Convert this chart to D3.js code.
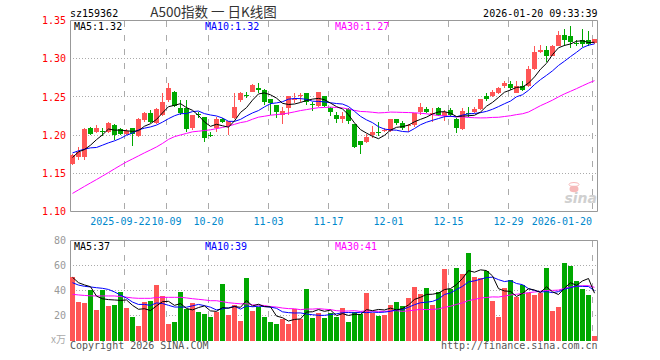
<!DOCTYPE html>
<html><head><meta charset="utf-8">
<script src="https://cdn.jsdelivr.net/npm/d3@7/dist/d3.min.js"></script>
<style>body{margin:0;background:#fff}svg{display:block}</style>
</head><body>
<svg id="c" width="660" height="360"></svg>
<script>
// ---- data ----
const tradingDays = {
  "2025-09": [9,10,11,12,15,16,17,18,19,22,23,24,25,26,29,30],
  "2025-10": [9,10,13,14,15,16,17,20,21,22,23,24,27,28,29,30,31],
  "2025-11": [3,4,5,6,7,10,11,12,13,14,17,18,19,20,21,24,25,26,27,28],
  "2025-12": [1,2,3,4,5,8,9,10,11,12,15,16,17,18,19,22,23,24,25,26,29,30,31],
  "2026-01": [5,6,7,8,9,12,13,14,15,16,19,20]
};
const dates = [];
Object.keys(tradingDays).forEach(m => tradingDays[m].forEach(d => dates.push(m + "-" + String(d).padStart(2, "0"))));

const open  = [1.1627,1.1715,1.1715,1.2088,1.2044,1.2057,1.2044,1.2132,1.2079,1.2013,1.2088,1.1987,1.2197,1.2294,1.2154,1.2263,1.2461,1.2570,1.2360,1.2360,1.2088,1.2280,1.2232,1.2003,1.2088,1.2211,1.2123,1.2219,1.2461,1.2530,1.2570,1.2614,1.2592,1.2469,1.2395,1.2263,1.2351,1.2460,1.2520,1.2548,1.2412,1.2382,1.2513,1.2360,1.2263,1.2206,1.2338,1.2145,1.1921,1.1912,1.2000,1.2035,1.2062,1.2057,1.2206,1.2154,1.2125,1.2132,1.2307,1.2338,1.2290,1.2351,1.2250,1.2329,1.2211,1.2079,1.2294,1.2307,1.2338,1.2513,1.2513,1.2557,1.2645,1.2671,1.2557,1.2645,1.2645,1.2864,1.3088,1.3118,1.3039,1.3162,1.3316,1.3303,1.3210,1.3250,1.3241,1.3206];
const high  = [1.1759,1.1838,1.2088,1.2110,1.2132,1.2096,1.2175,1.2140,1.2088,1.2075,1.2092,1.2219,1.2307,1.2329,1.2350,1.2557,1.2680,1.2575,1.2461,1.2461,1.2268,1.2307,1.2241,1.2044,1.2241,1.2230,1.2190,1.2548,1.2570,1.2570,1.2665,1.2680,1.2600,1.2472,1.2398,1.2373,1.2516,1.2548,1.2557,1.2557,1.2439,1.2565,1.2516,1.2373,1.2307,1.2307,1.2351,1.2148,1.1924,1.2013,1.2118,1.2175,1.2088,1.2210,1.2210,1.2184,1.2140,1.2294,1.2417,1.2373,1.2351,1.2373,1.2329,1.2351,1.2219,1.2351,1.2364,1.2364,1.2472,1.2557,1.2592,1.2636,1.2702,1.2711,1.2702,1.2702,1.2899,1.3162,1.3184,1.3171,1.3184,1.3368,1.3390,1.3425,1.3250,1.3390,1.3360,1.3262];
const low   = [1.1605,1.1671,1.1680,1.2000,1.2031,1.1987,1.2022,1.1934,1.2000,1.2000,1.1855,1.1969,1.2175,1.2162,1.2140,1.2255,1.2430,1.2373,1.2263,1.2044,1.2066,1.2219,1.1912,1.1969,1.2044,1.2160,1.2000,1.2212,1.2439,1.2483,1.2565,1.2557,1.2395,1.2263,1.2219,1.2140,1.2263,1.2417,1.2439,1.2395,1.2320,1.2373,1.2373,1.2250,1.2154,1.2162,1.2145,1.1825,1.1759,1.1899,1.1956,1.1987,1.2044,1.2044,1.2132,1.2066,1.2044,1.2110,1.2263,1.2285,1.2175,1.2250,1.2184,1.2241,1.2031,1.2066,1.2241,1.2285,1.2329,1.2447,1.2496,1.2539,1.2614,1.2592,1.2548,1.2579,1.2636,1.2855,1.3075,1.2952,1.3031,1.3160,1.3171,1.3140,1.3162,1.3154,1.3162,1.3197];
const close = [1.1737,1.1781,1.2075,1.2013,1.2096,1.2053,1.2162,1.2000,1.2013,1.2057,1.2013,1.2206,1.2294,1.2175,1.2338,1.2439,1.2614,1.2382,1.2285,1.2079,1.2263,1.2276,1.1956,1.2000,1.2211,1.2167,1.2184,1.2373,1.2548,1.2526,1.2658,1.2590,1.2439,1.2425,1.2307,1.2320,1.2513,1.2469,1.2526,1.2439,1.2408,1.2561,1.2382,1.2307,1.2206,1.2254,1.2184,1.1846,1.1868,1.1978,1.2044,1.2031,1.2066,1.2206,1.2162,1.2088,1.2132,1.2285,1.2364,1.2307,1.2294,1.2263,1.2307,1.2263,1.2088,1.2320,1.2290,1.2338,1.2469,1.2474,1.2570,1.2614,1.2680,1.2614,1.2645,1.2592,1.2868,1.3088,1.3118,1.3031,1.3162,1.3316,1.3241,1.3215,1.3206,1.3197,1.3197,1.3259];
const volume = [51.2,31.2,30.4,40.8,24.6,40.8,27.8,28.9,39.2,26.3,19.2,12,31.2,32,44.8,36,13.6,15,39.2,25.1,30.4,22.9,21.6,19.2,23.2,45.6,20.3,28.3,16.1,50.4,24,27,18.9,15,13.6,17.5,13.6,25.4,17,41.3,18.4,22.4,18.4,21.9,19.2,26.4,15.2,22.9,21.3,38.4,22.4,20,20.8,28.8,30.9,28,34.4,43.2,37.1,42.4,28.8,38.9,57.4,41,58.3,53.4,70.2,51.1,50.4,55.5,32,19.2,41.9,48.6,35.2,44.3,37.9,36.8,38.4,58.4,24,27,62.4,60,48,41.6,36.8,3.7];

// moving-average values at the left edge (they depend on earlier days)
const ma5Head  = [1.1707,1.1780,1.1811,1.1868];
const ma10Head = [1.1767,1.1794,1.1816,1.1833,1.1838,1.1868,1.1899,1.1925,1.1957];
const ma30Head = [1.1237,1.1283,1.1329,1.1374,1.1418,1.1464,1.1510,1.1558,1.1604,1.1649,1.1688,1.1728,1.1768,1.1806,1.1845,1.1891,1.1944,1.1980,1.2002,1.2022,1.2043,1.2051,1.2060,1.2069,1.2085,1.2100,1.2118,1.2141,1.2164];
const vma5Head  = [50.7,46.4,44.6,43.2];
const vma10Head = [46.4,44.5,43.5,43.0,42.4,41.9,41.0,39.0,36.5];
const vma30Head = [37.1,36.6,36.2,35.9,35.8,35.8,35.8,35.8,35.3,34.8,34.2,33.9,33.9,33.9,34.6,34.7,34.7,34.7,34.7,34.2,33.6,33.1,32.6,32.0,32.0,31.2,30.4,29.9,29.5];

const xTickDates  = ["2025-09-22","2025-10-09","2025-10-20","2025-11-03","2025-11-17","2025-12-01","2025-12-15","2025-12-29","2026-01-20"];
const xTickLabels = ["2025-09-22","10-09","10-20","11-03","11-17","12-01","12-15","12-29","2026-01-20"];
const priceTicks = [1.10,1.15,1.20,1.25,1.30,1.35];
const volTicks = [20,40,60,80];
const priceLegend = ["MA5:1.32","MA10:1.32","MA30:1.27"];
const volLegend = ["MA5:37","MA10:39","MA30:41"];
const titleText = "A500指数 一 日K线图";
const codeText = "sz159362";
const timeText = "2026-01-20 09:33:39";

// ---- helpers ----
function movingAvg(arr, n, head) {
  return arr.map((v, i) => i < head.length ? head[i] : d3.mean(arr.slice(i - n + 1, i + 1)));
}
const ma5 = movingAvg(close, 5, ma5Head), ma10 = movingAvg(close, 10, ma10Head), ma30 = movingAvg(close, 30, ma30Head);
const vma5 = movingAvg(volume, 5, vma5Head), vma10 = movingAvg(volume, 10, vma10Head), vma30 = movingAvg(volume, 30, vma30Head);

const svg = d3.select("#c");
const L = 70, R = 597.5;
const x = d3.scaleBand().domain(dates).range([L, L + 6 * dates.length]).padding(0);
const yP = d3.scaleLinear().domain([1.10, 1.35]).range([211.5, 20.5]);
const yV = d3.scaleLinear().domain([0, 80]).range([340.7, 240.7]);
const RED = "#ff5555", GREEN = "#00a800";
const MONO = "'DejaVu Sans Mono', 'Liberation Mono', monospace";
const snap = v => Math.floor(v) + 0.5;

// header
svg.append("text").attr("x", L).attr("y", 16.5).attr("font-family", MONO).attr("font-size", 10).attr("fill", "#000").text(codeText);
svg.append("text").attr("x", 213.5).attr("y", 17).attr("text-anchor", "middle").attr("font-family", "'Noto Sans CJK SC', sans-serif").attr("font-size", 13.5).attr("fill", "#333").text(titleText);
svg.append("text").attr("x", R).attr("y", 16.5).attr("text-anchor", "end").attr("font-family", MONO).attr("font-size", 10).attr("fill", "#000").text(timeText);

// ---- price panel grid ----
const gP = svg.append("g");
gP.selectAll("line.hg").data(priceTicks.filter(v => v > 1.10 && v < 1.35)).join("line")
  .attr("x1", L).attr("x2", R).attr("y1", d => snap(yP(d))).attr("y2", d => snap(yP(d)))
  .attr("stroke", "#aaa").attr("stroke-dasharray", "1,2");
gP.selectAll("line.vg").data(xTickDates).join("line")
  .attr("x1", d => x(d) + 0.5).attr("x2", d => x(d) + 0.5).attr("y1", 21).attr("y2", 211)
  .attr("stroke", "#aaa").attr("stroke-dasharray", "6,8");
// border
gP.append("path").attr("d", `M${L + 0.5},${snap(yP(1.10))}V20.5H${R}V${snap(yP(1.10))}H${L + 0.5}`)
  .attr("fill", "none").attr("stroke", "#999");
// y labels
gP.selectAll("text.yl").data(priceTicks).join("text")
  .attr("x", 66).attr("y", d => yP(d) + 3.6).attr("text-anchor", "end")
  .attr("font-family", MONO).attr("font-size", 10).attr("fill", "#f00").text(d => d.toFixed(2));
// x labels (first one nudged left so it does not run into the next; last one kept inside the panel)
const nLab = xTickDates.length;
gP.selectAll("text.xl").data(xTickDates).join("text")
  .attr("x", (d, i) => i === nLab - 1 ? x(d) : i === 0 ? x(d) + 26.5 : x(d) + 0.5)
  .attr("y", 225)
  .attr("text-anchor", (d, i) => i === nLab - 1 || i === 0 ? "end" : "middle")
  .attr("font-family", MONO).attr("font-size", 10).attr("fill", "#0088cc")
  .text((d, i) => xTickLabels[i]);

// sina watermark
const wm = svg.append("g").attr("opacity", 0.55);
wm.append("ellipse").attr("cx", 574).attr("cy", 189).attr("rx", 4.5).attr("ry", 3.2).attr("fill", "#f08080");
wm.append("ellipse").attr("cx", 574).attr("cy", 184.5).attr("rx", 5).attr("ry", 2).attr("fill", "none").attr("stroke", "#f08080").attr("stroke-width", 1);
wm.append("text").attr("x", 597).attr("y", 203).attr("text-anchor", "end").attr("font-family", "'DejaVu Sans', sans-serif")
  .attr("font-weight", "bold").attr("font-style", "italic").attr("font-size", 14).attr("fill", "#aaa").text("sina");

// candles
const cg = svg.append("g").attr("shape-rendering", "crispEdges");
cg.selectAll("line.wick").data(dates).join("line")
  .attr("x1", d => x(d) + 2.5).attr("x2", d => x(d) + 2.5)
  .attr("y1", (d, i) => yP(high[i])).attr("y2", (d, i) => yP(low[i]))
  .attr("stroke", (d, i) => close[i] >= open[i] ? RED : GREEN);
cg.selectAll("rect.body").data(dates).join("rect")
  .attr("x", d => x(d)).attr("width", 5)
  .attr("y", (d, i) => yP(Math.max(open[i], close[i])))
  .attr("height", (d, i) => Math.max(1, Math.abs(yP(open[i]) - yP(close[i]))))
  .attr("fill", (d, i) => close[i] >= open[i] ? RED : GREEN);

// MA lines
const lineP = d3.line().x((d, i) => x(dates[i]) + 2.5).y(d => yP(d));
[[ma30, "#ff00ff"], [ma10, "#0000ff"], [ma5, "#000"]].forEach(([s, c]) => {
  svg.append("path").attr("d", lineP(s)).attr("fill", "none").attr("stroke", c).attr("stroke-width", 1);
});
// legend
const legX = [74, 205, 335], legC = ["#000", "#0000ff", "#ff00ff"];
svg.selectAll("text.pl").data(priceLegend).join("text")
  .attr("x", (d, i) => legX[i]).attr("y", 30).attr("font-family", MONO).attr("font-size", 10)
  .attr("fill", (d, i) => legC[i]).text(d => d);

// ---- volume panel ----
const gV = svg.append("g");
gV.selectAll("line.hg").data(volTicks.filter(v => v < 80)).join("line")
  .attr("x1", L).attr("x2", R).attr("y1", d => snap(yV(d))).attr("y2", d => snap(yV(d)))
  .attr("stroke", "#aaa").attr("stroke-dasharray", "1,2");
gV.selectAll("line.vg").data(xTickDates).join("line")
  .attr("x1", d => x(d) + 0.5).attr("x2", d => x(d) + 0.5).attr("y1", 241).attr("y2", 341)
  .attr("stroke", "#aaa").attr("stroke-dasharray", "6,8");
gV.append("path").attr("d", `M${L + 0.5},341V${snap(yV(80))}H${R}V341`).attr("fill", "none").attr("stroke", "#999");
gV.selectAll("text.yl").data(volTicks).join("text")
  .attr("x", 66).attr("y", d => yV(d) + 3.6).attr("text-anchor", "end")
  .attr("font-family", MONO).attr("font-size", 10).attr("fill", "#999").text(d => d);
gV.append("text").attr("x", 66).attr("y", 343).attr("text-anchor", "end")
  .attr("font-family", "'Noto Sans CJK SC', sans-serif").attr("font-size", 10).attr("fill", "#aaa").text("x万");

gV.append("g").attr("shape-rendering", "crispEdges").selectAll("rect").data(dates).join("rect")
  .attr("x", d => x(d)).attr("width", 5)
  .attr("y", (d, i) => yV(volume[i])).attr("height", (d, i) => yV(0) - yV(volume[i]))
  .attr("fill", (d, i) => close[i] >= open[i] ? RED : GREEN);

const lineV = d3.line().x((d, i) => x(dates[i]) + 2.5).y(d => yV(d));
[[vma30, "#ff00ff"], [vma10, "#0000ff"], [vma5, "#000"]].forEach(([s, c]) => {
  gV.append("path").attr("d", lineV(s)).attr("fill", "none").attr("stroke", c).attr("stroke-width", 1);
});
gV.selectAll("text.vlg").data(volLegend).join("text")
  .attr("x", (d, i) => legX[i]).attr("y", 250).attr("font-family", MONO).attr("font-size", 10)
  .attr("fill", (d, i) => legC[i]).text(d => d);

// footer
svg.append("text").attr("x", L).attr("y", 349).attr("font-family", MONO).attr("font-size", 10).attr("fill", "#555").text("Copyright 2026 SINA.COM");
svg.append("text").attr("x", R).attr("y", 349).attr("text-anchor", "end").attr("font-family", MONO).attr("font-size", 10).attr("fill", "#555").text("http://finance.sina.com.cn");
</script>
</body></html>
